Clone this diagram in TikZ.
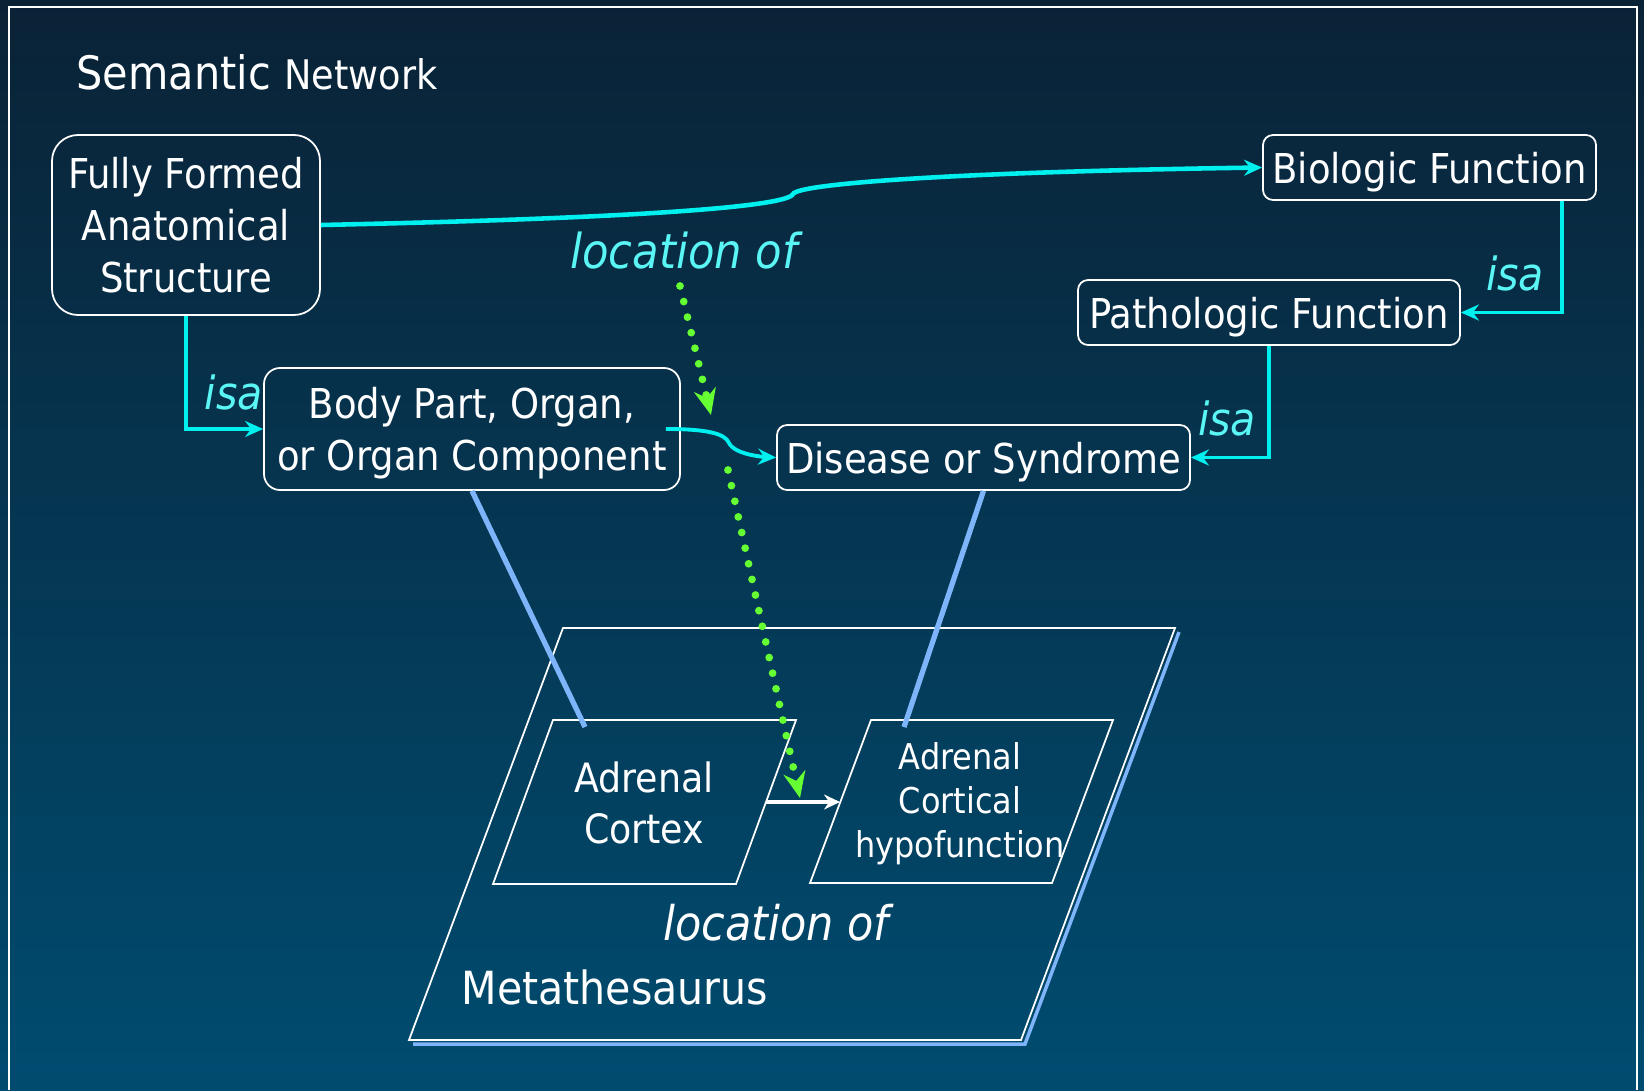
\documentclass[tikz,border=0pt]{standalone}
\usepackage{fontspec}
\setmainfont{DejaVu Sans Condensed}
\usetikzlibrary{arrows.meta,calc}
\definecolor{SlideTop}{RGB}{10,34,54}
\definecolor{SlideBottom}{RGB}{0,76,112}
\definecolor{LinkCyan}{RGB}{0,240,240}
\definecolor{LabelCyan}{RGB}{90,245,245}
\definecolor{DotGreen}{RGB}{102,255,51}
\definecolor{MapBlue}{RGB}{125,180,250}
\tikzset{
  conceptbox/.style={draw=white,line width=0.5pt,rounded corners=1mm,text=white,
    align=center,inner sep=1pt,text depth=0pt,font=\fontsize{11.7}{14.7}\selectfont},
  isalink/.style={-{Stealth[length=1.8mm,width=1.6mm]},
    line width=1.1pt,draw=LinkCyan},
  rellink/.style={isalink,line width=1.3pt},
  isalabel/.style={text=LabelCyan,anchor=base,font=\fontsize{13}{15}\selectfont\itshape},
  dotlink/.style={-{Stealth[length=2.6mm,width=2.2mm]},draw=DotGreen,
    line width=2.2pt,line cap=round,dash pattern=on 0pt off 1.6mm},
  maplink/.style={draw=MapBlue,line width=1.5pt},
  planeedge/.style={draw=white,line width=0.5pt},
  planetext/.style={text=white,align=center},
}

\begin{document}
\begin{tikzpicture}[x=0.1mm,y=-0.1mm]
  \useasboundingbox (0,0) rectangle (1644,1090);
  \shade[top color=SlideTop,bottom color=SlideBottom] (0,0) rectangle (1644,1090);
  \draw[white,line width=0.45pt] (9,1090) -- (9,7) -- (1637,7) -- (1637,1090);

  \node[anchor=base west,inner sep=0pt,text=white] (title) at (76,89)
    {\fontsize{13.1}{15}\selectfont Semantic \fontsize{11.6}{14}\selectfont Network};

  % semantic network
  \node[conceptbox,rounded corners=2.6mm,minimum width=26.8mm,minimum height=18mm] (ffas) at (186,225) {Fully Formed\\Anatomical\\Structure};
  \node[conceptbox,minimum width=33.3mm,minimum height=6.5mm] (biof) at (1429.5,167.5) {Biologic Function};
  \node[conceptbox,minimum width=38.2mm,minimum height=6.5mm] (patf) at (1269,312.5) {Pathologic Function};
  \node[conceptbox,rounded corners=1.6mm,minimum width=41.6mm,minimum height=12.2mm] (bpo) at (472,429) {Body Part, Organ,\\or Organ Component};
  \node[conceptbox,minimum width=41.3mm,minimum height=6.5mm] (dos) at (983.5,457.5) {Disease or Syndrome};

  \draw[rellink] (ffas.east) .. controls (650,218) and (788,206) .. (793,194)
    .. controls (798,184) and (950,172) .. (biof.west);
  \node[isalabel,font=\fontsize{13.7}{16}\selectfont\itshape] (locof) at (684,268) {location of};

  \draw[isalink] (ffas.south) |- (bpo.west);
  \draw[isalink] ([xshift=-3.5mm]biof.south east) |- (patf.east);
  \draw[isalink] (patf.south) |- (dos.east);
  \node[isalabel] (isa1) at (234,409) {isa};
  \node[isalabel] (isa2) at (1515,290) {isa};
  \node[isalabel] (isa3) at (1227,435) {isa};

  \draw[isalink] ([xshift=-1.5mm]bpo.east) .. controls (705,429) and (725,433) .. (729,443)
    .. controls (735,455) and (765,457) .. (dos.west);

  % metathesaurus plane
  \draw[MapBlue,line width=1pt] (1179,632) -- (1025,1044) -- (413,1044);
  \draw[planeedge] (563,628) -- (1175,628) -- (1021,1040) -- (409,1040) -- cycle;
  \draw[planeedge] (553,720) -- (796,720) -- (736,884) -- (493,884) -- cycle;
  \draw[planeedge] (871,720) -- (1113,720) -- (1052,883) -- (810,883) -- cycle;

  \node[planetext,font=\fontsize{11.5}{14.3}\selectfont] (adc) at (644,803) {Adrenal\\Cortex};
  \node[planetext,font=\fontsize{10.1}{12.5}\selectfont] (ach) at (960,804) {Adrenal\\Cortical\\hypofunction};
  \node[isalabel,text=white,font=\fontsize{13.6}{16}\selectfont\itshape] (locof2) at (776,940) {location of};
  \node[planetext,anchor=base,font=\fontsize{13}{16}\selectfont] (meta) at (615,1004) {Metathesaurus};

  \coordinate (adcE) at (766,802);
  \coordinate (achW) at (840,802);
  \draw[white,line width=1pt,-{Stealth[length=1.6mm,width=1.5mm]}] (adcE) -- (achW);

  \coordinate (adcTop) at (585,727);
  \coordinate (achTop) at (904,727);
  \draw[maplink] (bpo.south) -- (adcTop);
  \draw[maplink] (dos.south) -- (achTop);

  % location of, twice
  \coordinate (g1s) at (680,286);
  \coordinate (g1e) at (711,415);
  \coordinate (g2s) at (728,470);
  \coordinate (g2e) at (800,798);
  \draw[dotlink] (g1s) -- (g1e);
  \draw[dotlink] (g2s) -- (g2e);
\end{tikzpicture}
\end{document}
